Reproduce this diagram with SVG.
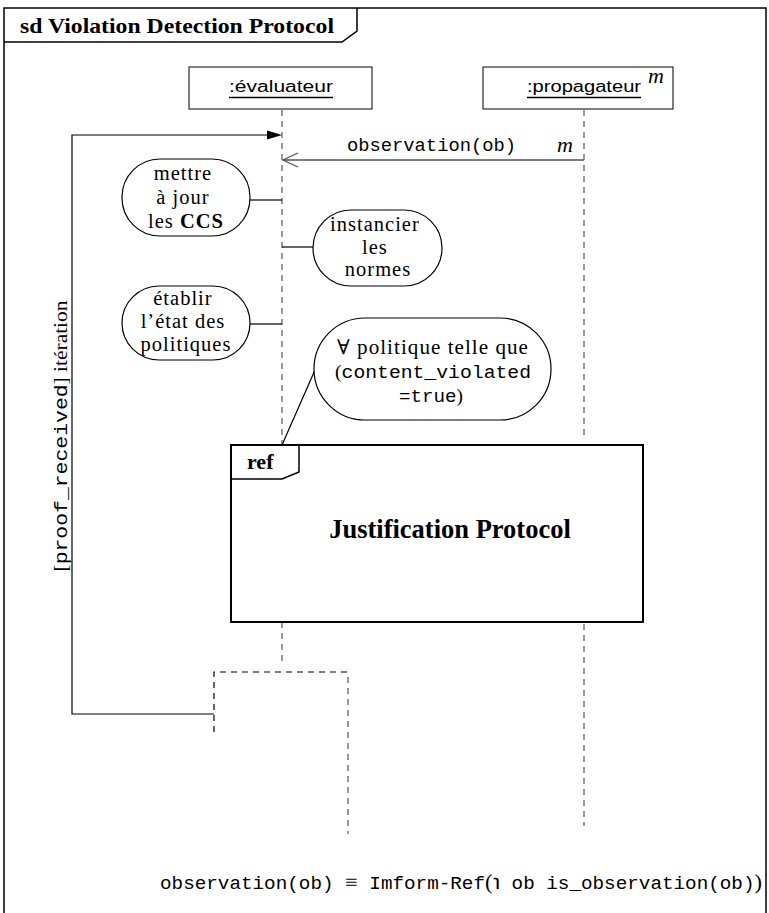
<svg xmlns="http://www.w3.org/2000/svg" width="769" height="913" viewBox="0 0 769 913">
<style>
  .serif { font-family: "Liberation Serif", "DejaVu Serif", serif; fill: #000; }
  .bold { font-family: "Liberation Serif", "DejaVu Serif", serif; font-weight: bold; fill: #000; }
  .mono { font-family: "Liberation Mono", "DejaVu Sans Mono", monospace; fill: #000; }
  .sans { font-family: "Liberation Sans", "DejaVu Sans", sans-serif; fill: #000; }
  .note { fill: #fff; stroke: #000; stroke-width: 1.2; }
  .notetext { font-family: "Liberation Serif", "DejaVu Serif", serif; font-size: 20.5px; letter-spacing: 1px; fill: #000; }
  .life { fill: none; stroke: #555; stroke-width: 1.2; stroke-dasharray: 6,5; }
  .solid { fill: none; stroke: #000; stroke-width: 1.2; }
  .it { font-family: "Liberation Serif", "DejaVu Serif", serif; font-style: italic; fill: #000; }
</style>

<!-- outer sequence diagram frame -->
<g id="frame">
  <rect x="4" y="8" width="762" height="915" fill="#fff" stroke="#000" stroke-width="1.5"/>
  <path d="M4,42 H342 L357,31 V8" fill="none" stroke="#000" stroke-width="1.5"/>
  <text class="bold" x="20" y="33" font-size="21" textLength="314" lengthAdjust="spacingAndGlyphs">sd Violation Detection Protocol</text>
</g>

<!-- lifeline heads -->
<g id="evaluateur">
  <rect x="189" y="67" width="183" height="42" fill="#fff" stroke="#000" stroke-width="1"/>
  <text class="sans" x="229" y="92" font-size="16" textLength="104" lengthAdjust="spacingAndGlyphs">:évaluateur</text>
  <line x1="229" y1="97.5" x2="333" y2="97.5" stroke="#000" stroke-width="1.6"/>
</g>
<g id="propagateur">
  <rect x="483" y="67" width="190" height="42" fill="#fff" stroke="#000" stroke-width="1"/>
  <text class="sans" x="527" y="92" font-size="16" textLength="114" lengthAdjust="spacingAndGlyphs">:propagateur</text>
  <line x1="527" y1="97.5" x2="641" y2="97.5" stroke="#000" stroke-width="1.6"/>
  <text class="it" x="648" y="83" font-size="22">m</text>
</g>

<!-- connectors: lifelines, messages, loop -->
<g id="connectors">
  <path class="life" d="M282,110 V445"/>
  <path class="life" d="M282,622 V664"/>
  <path class="life" d="M584,110 V440"/>
  <path class="life" d="M584,624 V826"/>
  <path d="M214,732 V672 H348" fill="none" stroke="#000" stroke-width="1.2" stroke-dasharray="6,5"/>
  <path class="life" d="M348,677 V834"/>

  <!-- iteration loop -->
  <path class="solid" d="M214,714 H72 V135 H267"/>
  <polygon points="267,130.5 282,135 267,139.5" fill="#000"/>

  <!-- observation(ob) message -->
  <line x1="584" y1="160" x2="283" y2="160" stroke="#555" stroke-width="1.3"/>
  <path d="M298,153 L283,160 L298,167" fill="none" stroke="#555" stroke-width="1.3"/>

  <!-- note links -->
  <line class="solid" x1="250" y1="200" x2="282" y2="200"/>
  <line class="solid" x1="282" y1="247" x2="313" y2="247"/>
  <line class="solid" x1="250" y1="324" x2="282" y2="324"/>
  <line class="solid" x1="315" y1="370" x2="282" y2="445"/>
</g>

<g id="msg-label">
  <text class="mono" x="347" y="151" font-size="18.5" textLength="169" lengthAdjust="spacingAndGlyphs">observation(ob)</text>
  <text class="it" x="557" y="152" font-size="22">m</text>
</g>

<g id="loop-label">
  <text x="0" y="0" transform="translate(67,436) rotate(-90)" text-anchor="middle" font-size="18" textLength="271" lengthAdjust="spacingAndGlyphs"><tspan class="serif">[</tspan><tspan class="mono">proof_received</tspan><tspan class="serif">] itération</tspan></text>
</g>

<!-- activity notes -->
<g id="note-ccs">
  <rect class="note" x="122" y="159" width="128" height="77" rx="38" ry="38"/>
  <text class="notetext" text-anchor="middle">
    <tspan x="186" y="180">mettre</tspan>
    <tspan x="186" y="204">à jour</tspan>
    <tspan x="186" y="228">les <tspan class="bold">CCS</tspan></tspan>
  </text>
</g>
<g id="note-normes">
  <rect class="note" x="313" y="210" width="129" height="76" rx="38" ry="38"/>
  <text class="notetext" text-anchor="middle">
    <tspan x="378" y="231">instancier</tspan>
    <tspan x="378" y="254">les</tspan>
    <tspan x="378" y="276">normes</tspan>
  </text>
</g>
<g id="note-etat">
  <rect class="note" x="122" y="286" width="128" height="74" rx="37" ry="37"/>
  <text class="notetext" text-anchor="middle">
    <tspan x="186" y="305">établir</tspan>
    <tspan x="186" y="328">l’état des</tspan>
    <tspan x="186" y="351">politiques</tspan>
  </text>
</g>
<g id="note-politique">
  <rect class="note" x="314" y="318" width="237" height="102" rx="51" ry="51"/>
  <text class="notetext" x="337" y="354" textLength="192" lengthAdjust="spacingAndGlyphs">∀ politique telle que</text>
  <text font-size="19" x="335" y="378" textLength="196" lengthAdjust="spacingAndGlyphs"><tspan class="serif">(</tspan><tspan class="mono">content_violated</tspan></text>
  <text font-size="19" x="399" y="402" textLength="64" lengthAdjust="spacingAndGlyphs"><tspan class="mono">=true</tspan><tspan class="serif">)</tspan></text>
</g>

<!-- interaction use -->
<g id="ref-justification">
  <rect x="231" y="445" width="412" height="177" fill="#fff" stroke="#000" stroke-width="2"/>
  <path d="M231,479 H282 L299,472 V445" fill="none" stroke="#000" stroke-width="1.5"/>
  <text class="bold" x="247" y="469" font-size="22">ref</text>
  <text class="bold" x="450" y="538" font-size="26.5" text-anchor="middle">Justification Protocol</text>
</g>

<!-- definition footnote -->
<g id="definition">
  <text font-size="18" x="160" y="889" textLength="602" lengthAdjust="spacingAndGlyphs"><tspan class="mono">observation(ob) </tspan><tspan class="serif" font-size="21">≡</tspan><tspan class="mono"> Imform-Ref</tspan><tspan class="serif" font-size="21">(℩</tspan><tspan class="mono"> ob is_observation(ob)</tspan><tspan class="serif" font-size="21">)</tspan></text>
</g>
</svg>
